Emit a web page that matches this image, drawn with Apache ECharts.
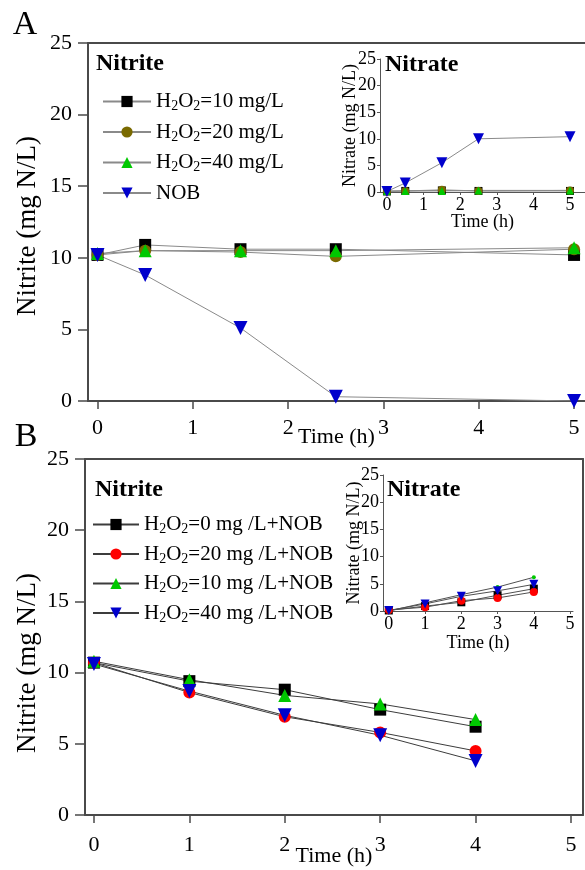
<!DOCTYPE html>
<html><head><meta charset="utf-8">
<script src="https://cdn.jsdelivr.net/npm/echarts@6/dist/echarts.min.js"></script>
<style>html,body{margin:0;padding:0;background:#fff}#c{width:585px;height:870px}</style>
</head><body><div id="c"></div>
<script>
const FONT = "'Liberation Serif','Times New Roman',serif";

// ---------- data ----------
const xTicks = [0, 1, 2, 3, 4, 5];
const yTicksMax = 25;

// Panel A
const timeA = [0, 0.5, 1.5, 2.5, 5];
const namesA = ['H2O2=10 mg/L', 'H2O2=20 mg/L', 'H2O2=40 mg/L', 'NOB'];
const nitriteA10 = [10.2, 10.9, 10.6, 10.6, 10.2];
const nitriteA20 = [10.2, 10.5, 10.4, 10.1, 10.6];
const nitriteA40 = [10.3, 10.5, 10.5, 10.5, 10.7];
const nitriteANOB = [10.2, 8.8, 5.1, 0.3, 0.0];
const nitrateA10 = [0.1, 0.2, 0.3, 0.2, 0.2];
const nitrateA20 = [0.1, 0.2, 0.4, 0.2, 0.3];
const nitrateA40 = [0.2, 0.2, 0.2, 0.3, 0.3];
const nitrateANOB = [0.1, 1.7, 5.5, 10.0, 10.4];

// Panel B
const timeB = [0, 1, 2, 3, 4];
const namesB = ['H2O2=0 mg /L+NOB', 'H2O2=20 mg /L+NOB', 'H2O2=10 mg /L+NOB', 'H2O2=40 mg /L+NOB'];
const nitriteB0 = [10.7, 9.4, 8.8, 7.4, 6.2];
const nitriteB20 = [10.7, 8.6, 6.9, 5.8, 4.5];
const nitriteB10 = [10.8, 9.5, 8.4, 7.8, 6.7];
const nitriteB40 = [10.6, 8.7, 7.0, 5.6, 3.8];
const nitrateB0 = [0.1, 0.9, 1.6, 2.9, 4.1];
const nitrateB20 = [0.2, 0.7, 1.9, 2.4, 3.5];
const nitrateB10 = [0.0, 1.5, 3.0, 4.4, 6.2];
const nitrateB40 = [0.1, 1.3, 2.7, 3.7, 4.9];

// ---------- helpers ----------
const zip = (xs, ys) => xs.map((x, i) => [x, ys[i]]);
const C = { black: '#000000', olive: '#7a6a00', green: '#00c800', blue: '#0000cc', red: '#ff0000' };
const axisCol = '#4a4a4a';

function legendFmt(name) {
  const m = name.match(/^H2O2(.*)$/);
  if (m) return '{n|H}{s|2}{n|O}{s|2}{n|' + m[1] + '}';
  return '{n|' + name + '}';
}
const legendRich = {
  n: { fontFamily: FONT, fontSize: 21, lineHeight: 24, color: '#000' },
  s: { fontFamily: FONT, fontSize: 14, lineHeight: 14, verticalAlign: 'bottom', color: '#000' }
};

function mainX(grid, min, max, nameGap, margin) {
  return {
    type: 'value', gridIndex: grid, min: min, max: max, position: 'bottom',
    name: 'Time (h)', nameLocation: 'middle', nameGap: nameGap, nameMoveOverlap: false,
    nameTextStyle: { fontFamily: FONT, fontSize: 22, color: '#000' },
    axisLine: { show: true, onZero: false, lineStyle: { color: axisCol, width: 2 } },
    axisTick: { show: true, length: 8, customValues: xTicks, lineStyle: { color: axisCol, width: 1.5 } },
    axisLabel: { customValues: xTicks, margin: margin, fontFamily: FONT, fontSize: 22, color: '#000' },
    splitLine: { show: false }
  };
}
function borderX(grid, min, max) {
  return {
    type: 'value', gridIndex: grid, min: min, max: max, position: 'top',
    axisLine: { show: true, onZero: false, lineStyle: { color: axisCol, width: 2 } },
    axisTick: { show: false }, axisLabel: { show: false }, splitLine: { show: false }
  };
}
function insetX(grid, min, max, nameGap) {
  return {
    type: 'value', gridIndex: grid, min: min, max: max, position: 'bottom',
    name: 'Time (h)', nameLocation: 'middle', nameGap: nameGap, nameMoveOverlap: false,
    nameTextStyle: { fontFamily: FONT, fontSize: 18, color: '#000' },
    axisLine: { show: true, onZero: false, lineStyle: { color: '#555', width: 1 } },
    axisTick: { show: true, length: 3, customValues: xTicks, lineStyle: { color: '#555' } },
    axisLabel: { customValues: xTicks, margin: 4, fontFamily: FONT, fontSize: 18, color: '#000' },
    splitLine: { show: false }
  };
}
function mainY(grid) {
  return {
    type: 'value', gridIndex: grid, min: 0, max: yTicksMax, interval: 5, position: 'left',
    axisLine: { show: true, onZero: false, lineStyle: { color: axisCol, width: 2 } },
    axisTick: { show: true, length: 10, lineStyle: { color: axisCol, width: 1.5 } },
    axisLabel: { margin: 16, fontFamily: FONT, fontSize: 22, color: '#000' },
    splitLine: { show: false }
  };
}
function insetY(grid, nameGap) {
  return {
    type: 'value', gridIndex: grid, min: 0, max: yTicksMax, interval: 5, position: 'left',
    name: 'Nitrate (mg N/L)', nameLocation: 'middle', nameGap: nameGap, nameMoveOverlap: false,
    nameTextStyle: { fontFamily: FONT, fontSize: 18, color: '#000' },
    axisLine: { show: true, onZero: false, lineStyle: { color: '#555', width: 1 } },
    axisTick: { show: true, length: 3, lineStyle: { color: '#555' } },
    axisLabel: { margin: 4, fontFamily: FONT, fontSize: 18, color: '#000' },
    splitLine: { show: false }
  };
}
function ser(name, xi, yi, xs, ys, color, symbol, size, rot, lineColor) {
  return {
    type: 'line', name: name, xAxisIndex: xi, yAxisIndex: yi, data: zip(xs, ys),
    symbol: symbol, symbolSize: size, symbolRotate: rot, showSymbol: true,
    itemStyle: { color: color }, lineStyle: { color: lineColor, width: 1 },
    emphasis: { disabled: true }, animation: false
  };
}
function vTitle(text, x, y, size) {
  return {
    type: 'text', x: x, y: y, rotation: Math.PI / 2,
    style: { text: text, font: size + 'px ' + FONT, fill: '#000', align: 'center', verticalAlign: 'middle' }
  };
}

const gA = '#8a8a8a', gB = '#3c3c3c', gBi = '#505050';

const option = {
  backgroundColor: '#ffffff',
  animation: false,
  grid: [
    { left: 88, top: 43, width: 497, height: 358, containLabel: false, outerBoundsMode: 'none' },
    { left: 380, top: 59, width: 205, height: 133, containLabel: false, outerBoundsMode: 'none' },
    { left: 85, top: 459, width: 498, height: 356, containLabel: false, outerBoundsMode: 'none' },
    { left: 383, top: 475, width: 190, height: 136, containLabel: false, outerBoundsMode: 'none' }
  ],
  xAxis: [
    mainX(0, -0.1, 5.115, 25, 16),
    borderX(0, -0.1, 5.115),
    insetX(1, -0.19, 5.41, 21),
    mainX(2, -0.094, 5.126, 30, 19),
    borderX(2, -0.094, 5.126),
    insetX(3, -0.16, 5.08, 23)
  ],
  yAxis: [
    mainY(0),
    insetY(1, 21),
    mainY(2),
    {
      type: 'value', gridIndex: 2, min: 0, max: yTicksMax, position: 'right',
      axisLine: { show: true, onZero: false, lineStyle: { color: axisCol, width: 2 } },
      axisTick: { show: false }, axisLabel: { show: false }, splitLine: { show: false }
    },
    insetY(3, 20)
  ],
  legend: [
    {
      data: namesA, orient: 'vertical', left: 97, top: 86, itemWidth: 48, itemHeight: 14, itemGap: 8,
      selectedMode: false, formatter: legendFmt, textStyle: { rich: legendRich }
    },
    {
      data: namesB, orient: 'vertical', left: 87, top: 509, itemWidth: 46, itemHeight: 14, itemGap: 7,
      selectedMode: false, formatter: legendFmt, textStyle: { rich: legendRich }
    }
  ],
  series: [
    ser(namesA[0], 0, 0, timeA, nitriteA10, C.black, 'rect', 12, 0, gA),
    ser(namesA[1], 0, 0, timeA, nitriteA20, C.olive, 'circle', 12, 0, gA),
    ser(namesA[2], 0, 0, timeA, nitriteA40, C.green, 'triangle', 13, 0, gA),
    ser(namesA[3], 0, 0, timeA, nitriteANOB, C.blue, 'triangle', 14, 180, gA),
    ser(namesA[0], 2, 1, timeA, nitrateA10, C.black, 'rect', 8, 0, gA),
    ser(namesA[1], 2, 1, timeA, nitrateA20, C.olive, 'circle', 8, 0, gA),
    ser(namesA[2], 2, 1, timeA, nitrateA40, C.green, 'triangle', 8, 0, gA),
    ser(namesA[3], 2, 1, timeA, nitrateANOB, C.blue, 'triangle', 11, 180, gA),

    ser(namesB[0], 3, 2, timeB, nitriteB0, C.black, 'rect', 12, 0, gB),
    ser(namesB[1], 3, 2, timeB, nitriteB20, C.red, 'circle', 12, 0, gB),
    ser(namesB[2], 3, 2, timeB, nitriteB10, C.green, 'triangle', 13, 0, gB),
    ser(namesB[3], 3, 2, timeB, nitriteB40, C.blue, 'triangle', 14, 180, gB),
    ser(namesB[0], 5, 4, timeB, nitrateB0, C.black, 'rect', 8, 0, gBi),
    ser(namesB[1], 5, 4, timeB, nitrateB20, C.red, 'circle', 8, 0, gBi),
    ser(namesB[2], 5, 4, timeB, nitrateB10, C.green, 'circle', 4, 0, gBi),
    ser(namesB[3], 5, 4, timeB, nitrateB40, C.blue, 'triangle', 9, 180, gBi)
  ],
  graphic: [
    { type: 'text', x: 25, y: 25, style: { text: 'A', font: '34px ' + FONT, fill: '#000', align: 'center', verticalAlign: 'middle' } },
    { type: 'text', x: 26, y: 437, style: { text: 'B', font: '34px ' + FONT, fill: '#000', align: 'center', verticalAlign: 'middle' } },
    { type: 'text', x: 96, y: 64, style: { text: 'Nitrite', font: 'bold 24px ' + FONT, fill: '#000', align: 'left', verticalAlign: 'middle' } },
    { type: 'text', x: 95, y: 490, style: { text: 'Nitrite', font: 'bold 24px ' + FONT, fill: '#000', align: 'left', verticalAlign: 'middle' } },
    { type: 'text', x: 385, y: 65, style: { text: 'Nitrate', font: 'bold 24px ' + FONT, fill: '#000', align: 'left', verticalAlign: 'middle' } },
    { type: 'text', x: 387, y: 490, style: { text: 'Nitrate', font: 'bold 24px ' + FONT, fill: '#000', align: 'left', verticalAlign: 'middle' } },
    vTitle('Nitrite (mg N/L)', 28, 226, 27),
    vTitle('Nitrite (mg N/L)', 28, 663, 27)
  ]
};

const chart = echarts.init(document.getElementById('c'), null, { renderer: 'canvas' });
chart.setOption(option);
</script>
</body></html>
